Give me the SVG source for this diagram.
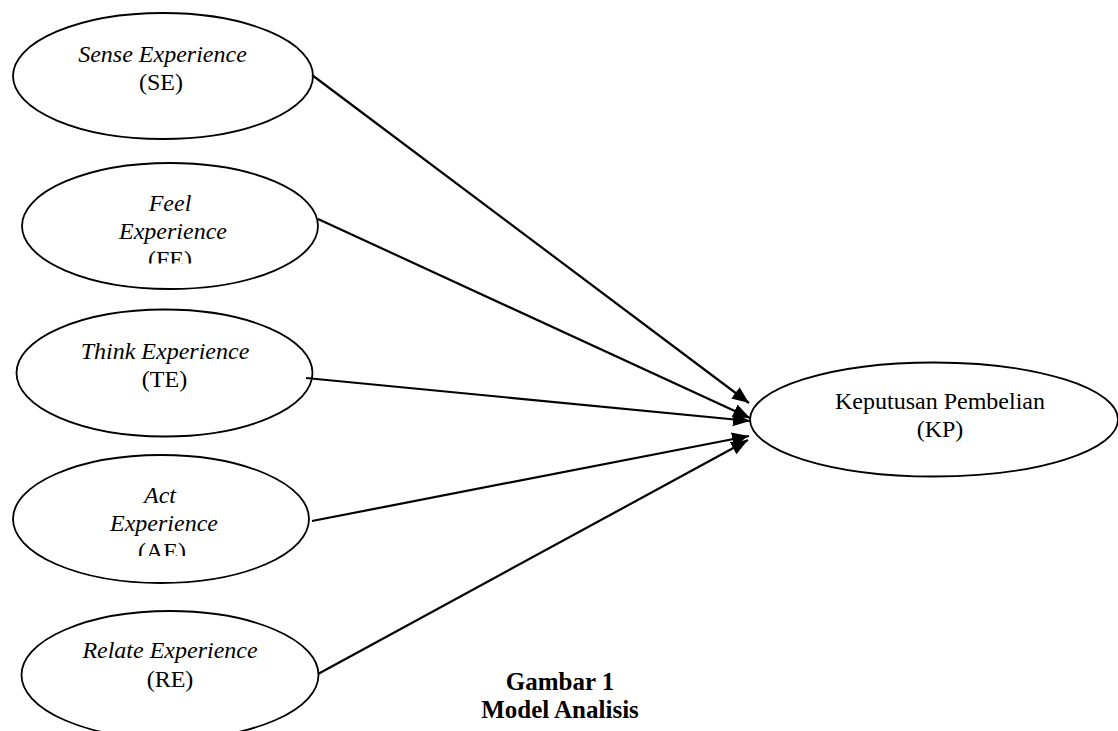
<svg xmlns="http://www.w3.org/2000/svg" width="1118" height="731" viewBox="0 0 1118 731">
  <style>
    .node ellipse { fill: #ffffff; stroke: #000000; stroke-width: 1.8; }
    .lbl { font-family: "Liberation Serif", "Times New Roman", serif; font-size: 24px; fill: #000000; text-anchor: middle; }
    .it { font-style: italic; }
    .edge { stroke: #000000; stroke-width: 2.2; fill: none; marker-end: url(#arrow); }
    .cap { font-family: "Liberation Serif", "Times New Roman", serif; font-size: 25px; font-weight: bold; fill: #000000; text-anchor: middle; }
  </style>
  <defs>
    <marker id="arrow" markerUnits="userSpaceOnUse" markerWidth="18" markerHeight="14" refX="17" refY="7" orient="auto">
      <path d="M0,0 L17,7 L0,14 z" fill="#000000"/>
    </marker>
    <clipPath id="clipFE"><rect x="0" y="0" width="400" height="263.5"/></clipPath>
    <clipPath id="clipAE"><rect x="0" y="400" width="400" height="156"/></clipPath>
  </defs>
  <rect x="0" y="0" width="1118" height="731" fill="#ffffff"/>

  <g id="node-SE" class="node">
    <ellipse cx="163" cy="76" rx="150" ry="63"/>
    <text class="lbl it" x="162.5" y="62">Sense Experience</text>
    <text class="lbl" x="161" y="90">(SE)</text>
  </g>

  <g id="node-FE" class="node">
    <ellipse cx="170" cy="226" rx="148" ry="63"/>
    <text class="lbl it" x="170" y="211">Feel</text>
    <text class="lbl it" x="173" y="239">Experience</text>
    <text class="lbl" x="170" y="267" clip-path="url(#clipFE)">(FE)</text>
  </g>

  <g id="node-TE" class="node">
    <ellipse cx="164.5" cy="373" rx="148" ry="63.5"/>
    <text class="lbl it" x="165" y="359">Think Experience</text>
    <text class="lbl" x="164.5" y="387">(TE)</text>
  </g>

  <g id="node-AE" class="node">
    <ellipse cx="161" cy="519" rx="148" ry="64"/>
    <text class="lbl it" x="160" y="503">Act</text>
    <text class="lbl it" x="164" y="531">Experience</text>
    <text class="lbl" x="162" y="559" clip-path="url(#clipAE)">(AE)</text>
  </g>

  <g id="node-RE" class="node">
    <ellipse cx="170" cy="675" rx="148.5" ry="64"/>
    <text class="lbl it" x="170" y="658">Relate Experience</text>
    <text class="lbl" x="170" y="687">(RE)</text>
  </g>

  <g id="node-KP" class="node">
    <ellipse cx="934" cy="419.5" rx="184" ry="57"/>
    <text class="lbl" x="940" y="409">Keputusan Pembelian</text>
    <text class="lbl" x="940" y="437">(KP)</text>
  </g>

  <g id="connectors">
    <line class="edge" x1="312" y1="75" x2="749" y2="403"/>
    <line class="edge" x1="318" y1="219" x2="750" y2="418"/>
    <line class="edge" x1="306" y1="378" x2="750" y2="421"/>
    <line class="edge" x1="312" y1="521" x2="749" y2="436"/>
    <line class="edge" x1="318" y1="674" x2="748" y2="440"/>
  </g>

  <g id="caption">
    <text class="cap" x="560" y="690">Gambar 1</text>
    <text class="cap" x="560" y="718">Model Analisis</text>
  </g>
</svg>
